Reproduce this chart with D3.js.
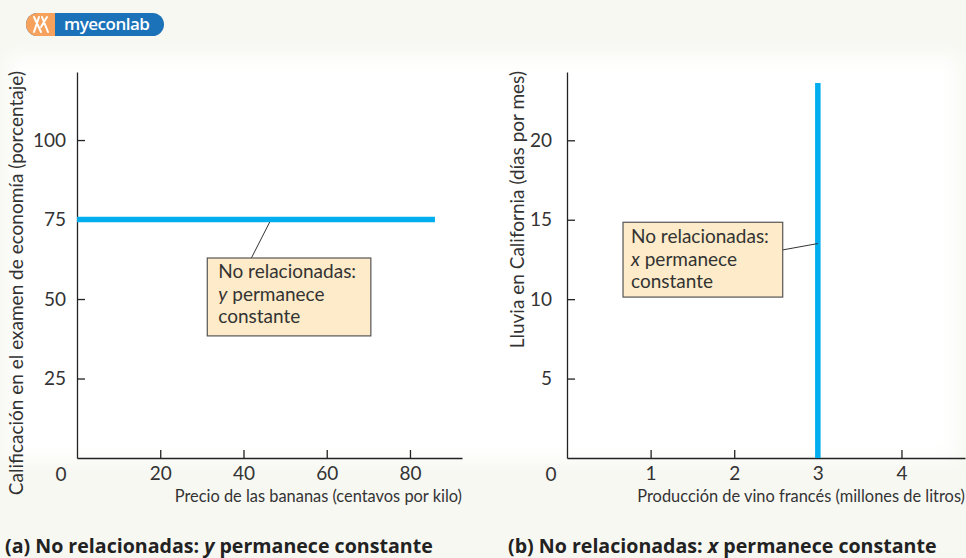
<!DOCTYPE html>
<html>
<head>
<meta charset="utf-8">
<script src="https://cdn.jsdelivr.net/npm/d3@7"></script>
<style>
  html, body { margin: 0; padding: 0; background: #f8f8f3; }
  svg { display: block; }
</style>
</head>
<body>
<svg id="chart" width="966" height="558"></svg>
<script>
// ---- data ----
const xTicksA = [20, 40, 60, 80];
const yTicksA = [25, 50, 75, 100];
const lineAx = [0, 86];
const lineAy = [75, 75];
const xTicksB = [1, 2, 3, 4];
const yTicksB = [5, 10, 15, 20];
const lineBx = [3, 3];
const lineBy = [0, 23.6];
const noteA = ["No relacionadas:", "y", " permanece", "constante"];
const noteB = ["No relacionadas:", "x", " permanece", "constante"];
const titlesA = { x: "Precio de las bananas (centavos por kilo)", y: "Calificación en el examen de economía (porcentaje)" };
const titlesB = { x: "Producción de vino francés (millones de litros)", y: "Lluvia en California (días por mes)" };
const captionA = ["(a) No relacionadas: ", "y", " permanece constante"];
const captionB = ["(b) No relacionadas: ", "x", " permanece constante"];

const svg = d3.select("#chart");
const FONT = "Lato, 'Open Sans', sans-serif";
const INK = "#333";
const BLUE = "#00aeef";

// soft white backdrop
const defs = svg.append("defs");
defs.append("filter").attr("id", "soft").attr("x", "-10%").attr("y", "-10%").attr("width", "120%").attr("height", "120%")
  .append("feGaussianBlur").attr("stdDeviation", 8);
svg.append("rect").attr("x", 10).attr("y", 58).attr("width", 946).attr("height", 400)
  .attr("fill", "#ffffff").attr("filter", "url(#soft)");

// logo
const logo = svg.append("g").attr("transform", "translate(26,13)");
logo.append("rect").attr("x", 0).attr("y", 0).attr("width", 138).attr("height", 23).attr("rx", 11.5).attr("fill", "#1b72b8");
logo.append("path").attr("d", "M11.5,0 H29 V23 H11.5 A11.5,11.5 0 0 1 11.5,0 Z").attr("fill", "#f6a15c");
logo.append("path").attr("d", "M8,4 L15,19 M13,4 L8,19 M16,4 L22,19 M21,4 L15,14")
  .attr("stroke", "#fff").attr("stroke-width", 2).attr("fill", "none").attr("stroke-linecap", "round");
logo.append("text").attr("x", 38).attr("y", 17).attr("fill", "#fff")
  .attr("font-family", "'Open Sans', sans-serif").attr("font-weight", 600).attr("font-size", 17)
  .attr("letter-spacing", -0.5).text("myeconlab");

function panel(opt) {
  const x = d3.scaleLinear().domain(opt.xDomain).range(opt.xRange);
  const y = d3.scaleLinear().domain(opt.yDomain).range([458, 72]);
  const g = svg.append("g");

  const xa = g.append("g").attr("transform", `translate(0,${y(0)})`)
    .call(d3.axisBottom(x).tickValues(opt.xTicks).tickFormat(d3.format("d")).tickSize(-8).tickSizeOuter(0).tickPadding(9));
  const ya = g.append("g").attr("transform", `translate(${x(0)},0)`)
    .call(d3.axisLeft(y).tickValues(opt.yTicks).tickFormat(d3.format("d")).tickSize(-8).tickSizeOuter(0).tickPadding(opt.yPad));
  [xa, ya].forEach(a => {
    a.selectAll("path.domain").attr("stroke", "#222").attr("stroke-width", 1.3);
    a.selectAll(".tick line").attr("stroke", "#222").attr("stroke-width", 1.3);
    a.selectAll(".tick text").attr("fill", INK).attr("font-family", FONT).attr("font-size", 19);
  });
  // origin label
  g.append("text").attr("x", x(0) - 16).attr("y", y(0) + 23).attr("text-anchor", "middle")
    .attr("fill", INK).attr("font-family", FONT).attr("font-size", 19).text("0");

  // axis titles
  g.append("text").attr("x", opt.xRange[1]).attr("y", y(0) + 44).attr("text-anchor", "end")
    .attr("fill", INK).attr("font-family", FONT).attr("font-size", 16.4).text(opt.titles.x);
  g.append("text").attr("transform", `translate(${opt.yTitleX},71) rotate(-90)`).attr("text-anchor", "end")
    .attr("fill", INK).attr("font-family", FONT).attr("font-size", 19).text(opt.titles.y);

  // the data line
  const pts = opt.lx.map((v, i) => [v, opt.ly[i]]);
  g.append("path").attr("d", d3.line().x(d => x(d[0])).y(d => y(d[1]))(pts))
    .attr("stroke", BLUE).attr("stroke-width", 5.5).attr("fill", "none");

  // annotation
  const n = opt.note;
  g.append("line").attr("x1", x(n.lead[0][0])).attr("y1", y(n.lead[0][1]))
    .attr("x2", x(n.lead[1][0])).attr("y2", y(n.lead[1][1])).attr("stroke", "#333").attr("stroke-width", 1);
  const bx = x(n.box[0]), by = y(n.box[1]), bw = x(n.box[2]) - bx, bh = y(n.box[3]) - by;
  g.append("rect").attr("x", bx).attr("y", by).attr("width", bw).attr("height", bh)
    .attr("fill", "#fdebc9").attr("stroke", "#555").attr("stroke-width", 1.2);
  const t = g.append("text").attr("fill", INK).attr("font-family", FONT).attr("font-size", 19);
  t.append("tspan").attr("x", bx + n.pad).attr("y", by + n.base).text(n.lines[0]);
  t.append("tspan").attr("x", bx + n.pad).attr("dy", 22.5).attr("font-style", "italic").text(n.lines[1]);
  t.append("tspan").text(n.lines[2]);
  t.append("tspan").attr("x", bx + n.pad).attr("dy", 22.5).text(n.lines[3]);

  // caption
  const c = svg.append("text").attr("x", opt.capX).attr("y", 553).attr("fill", "#222")
    .attr("font-family", "'Open Sans', sans-serif").attr("font-weight", 700).attr("font-size", 19.6);
  c.append("tspan").text(opt.caption[0]);
  c.append("tspan").attr("font-style", "italic").text(opt.caption[1]);
  c.append("tspan").text(opt.caption[2]);
}

panel({
  xDomain: [0, 92.5], xRange: [77, 462], yDomain: [0, 121.4], yPad: 11,
  xTicks: xTicksA, yTicks: yTicksA, lx: lineAx, ly: lineAy, titles: titlesA, yTitleX: 23,
  note: { lines: noteA, box: [31.3, 62.9, 70.6, 38.4], lead: [[46.3, 74.2], [41.9, 62.9]], pad: 11, base: 20 },
  caption: captionA, capX: 5
});
panel({
  xDomain: [0, 4.76], xRange: [567, 965], yDomain: [0, 24.3], yPad: 15,
  xTicks: xTicksB, yTicks: yTicksB, lx: lineBx, ly: lineBy, titles: titlesB, yTitleX: 524,
  note: { lines: noteB, box: [0.67, 14.84, 2.58, 10.13], lead: [[2.58, 13.1], [3.0, 13.5]], pad: 8, base: 21 },
  caption: captionB, capX: 508
});
</script>
</body>
</html>
